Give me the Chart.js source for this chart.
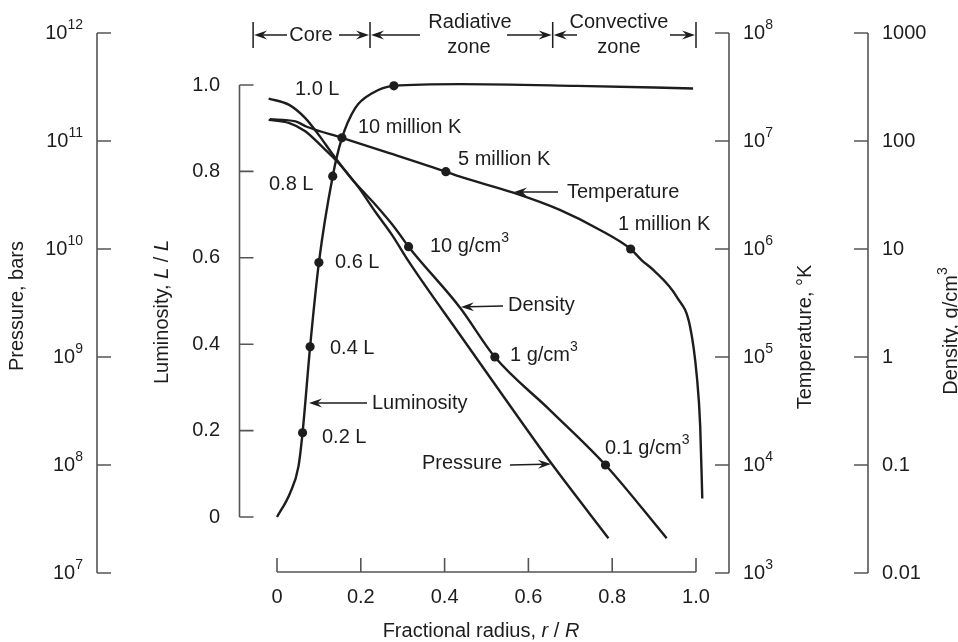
<!DOCTYPE html>
<html>
<head>
<meta charset="utf-8">
<script src="https://cdn.jsdelivr.net/npm/chart.js@4.4.1/dist/chart.umd.min.js"></script>
<style>
  html, body { margin: 0; padding: 0; background: #fff; }
  #wrap { width: 958px; height: 642px; }
</style>
</head>
<body>
<div id="wrap"><canvas id="sunChart" width="958" height="642"></canvas></div>
<script>
// fractional radius r/R for every curve
const lumR  = [0, 0.031, 0.051, 0.061, 0.079, 0.100, 0.133, 0.154, 0.187, 0.227, 0.279, 0.437, 0.715, 0.993];
const lumL  = [0, 0.055, 0.116, 0.195, 0.394, 0.589, 0.789, 0.874, 0.947, 0.981, 0.998, 1.002, 0.998, 0.992];

const tempR = [-0.017, 0.044, 0.071, 0.155, 0.270, 0.403, 0.437, 0.564, 0.675, 0.771, 0.844, 0.870, 0.898, 0.954, 0.986, 1.002, 1.010, 1.015];
const tempT = [1.59e7, 1.52e7, 1.355e7, 1.07e7, 7.69e6, 5.2e6, 4.67e6, 3.32e6, 2.30e6, 1.50e6, 1.0e6, 7.9e5, 6.4e5, 3.6e5, 1.9e5, 6.6e4, 2.3e4, 4.9e3];

const presR = [-0.020, 0.028, 0.0675, 0.0995, 0.131, 0.155, 0.195, 0.235, 0.274, 0.315, 0.437, 0.5465, 0.656, 0.791];
const presP = [2.47e11, 2.17e11, 1.63e11, 1.14e11, 7.7e10, 5.8e10, 3.7e10, 2.2e10, 1.36e10, 7.6e9, 1.6e9, 4.0e8, 1.02e8, 2.1e7];

const densR = [-0.020, 0.028, 0.0675, 0.107, 0.147, 0.187, 0.235, 0.282, 0.314, 0.437, 0.520, 0.652, 0.784, 0.930];
const densD = [157, 147, 123, 89, 62.5, 40.8, 25.7, 15.6, 10.5, 2.86, 1.0, 0.321, 0.1, 0.021];

// marked points
const lumDotR  = [0.061, 0.079, 0.100, 0.133, 0.279];
const lumDotL  = [0.195, 0.394, 0.589, 0.789, 0.998];
const tempDotR = [0.155, 0.403, 0.844];
const tempDotT = [1.07e7, 5.2e6, 1.0e6];
const densDotR = [0.314, 0.520, 0.784];
const densDotD = [10.5, 1.0, 0.1];

// ticks
const xTicks    = [0, 0.2, 0.4, 0.6, 0.8, 1.0];
const xLabels   = ['0', '0.2', '0.4', '0.6', '0.8', '1.0'];
const lumTicks  = [0, 0.2, 0.4, 0.6, 0.8, 1.0];
const lumLabels = ['0', '0.2', '0.4', '0.6', '0.8', '1.0'];
const presExp   = [7, 8, 9, 10, 11, 12];
const tempExp   = [3, 4, 5, 6, 7, 8];
const densTicks = [0.01, 0.1, 1, 10, 100, 1000];
const densLabels = ['0.01', '0.1', '1', '10', '100', '1000'];

// zone boundaries in r/R
const zoneEdges = [-0.057, 0.222, 0.658, 1.0];

const INK = '#1d1d1d';
const AXIS = '#555';
const FONT = '"Liberation Sans", Arial, Helvetica, sans-serif';
const f = (size, style) => (style || '') + ' ' + size + 'px ' + FONT;

function pts(xs, ys) { return xs.map((x, i) => ({ x: x, y: ys[i] })); }

// draws a row of text pieces [text, font, dy]
function runs(ctx, parts, x, y, align) {
    let w = 0;
    parts.forEach(p => { ctx.font = p[1]; w += ctx.measureText(p[0]).width; });
    let cx = align === 'center' ? x - w / 2 : align === 'right' ? x - w : x;
    ctx.textAlign = 'left';
    ctx.textBaseline = 'middle';
    parts.forEach(p => {
        ctx.font = p[1];
        ctx.fillText(p[0], cx, y + (p[2] || 0));
        cx += ctx.measureText(p[0]).width;
    });
}

function arrow(ctx, x1, y1, x2, y2) {
    const a = Math.atan2(y2 - y1, x2 - x1), c = Math.cos(a), s = Math.sin(a);
    const L = 13, W = 4.5;
    ctx.beginPath();
    ctx.moveTo(x1, y1);
    ctx.lineTo(x2 - c * 8, y2 - s * 8);
    ctx.stroke();
    ctx.beginPath();
    ctx.moveTo(x2, y2);
    ctx.lineTo(x2 - L * c + W * s, y2 - L * s - W * c);
    ctx.lineTo(x2 - 0.65 * L * c, y2 - 0.65 * L * s);
    ctx.lineTo(x2 - L * c - W * s, y2 - L * s + W * c);
    ctx.closePath();
    ctx.fill();
}

function vAxis(ctx, sc, x, vals, dir) {
    const ys = vals.map(v => sc.getPixelForValue(v));
    ctx.beginPath();
    ctx.moveTo(x, Math.min(...ys));
    ctx.lineTo(x, Math.max(...ys));
    ys.forEach(y => { ctx.moveTo(x, y); ctx.lineTo(x + dir * 14, y); });
    ctx.stroke();
    return ys;
}

function rotated(ctx, parts, x, y) {
    ctx.save();
    ctx.translate(x, y);
    ctx.rotate(-Math.PI / 2);
    runs(ctx, parts, 0, 0, 'center');
    ctx.restore();
}

const sunAxes = {
    id: 'sunAxes',
    afterDraw(chart) {
        const ctx = chart.ctx, s = chart.scales;
        const T = f(20), SUP = f(14), IT = f(20, 'italic');
        ctx.save();
        ctx.strokeStyle = AXIS;
        ctx.fillStyle = INK;
        ctx.lineWidth = 1.6;

        // pressure axis
        let ys = vAxis(ctx, s.yP, 97, presExp.map(e => Math.pow(10, e)), 1);
        ys.forEach((y, i) => runs(ctx, [['10', T], [String(presExp[i]), SUP, -8]], 83, y, 'right'));
        // luminosity axis
        ys = vAxis(ctx, s.yL, 239.5, lumTicks, 1);
        ys.forEach((y, i) => runs(ctx, [[lumLabels[i], T]], 220, y, 'right'));
        // temperature axis
        ys = vAxis(ctx, s.yT, 729, tempExp.map(e => Math.pow(10, e)), -1);
        ys.forEach((y, i) => runs(ctx, [['10', T], [String(tempExp[i]), SUP, -8]], 743, y, 'left'));
        // density axis
        ys = vAxis(ctx, s.yD, 868, densTicks, -1);
        ys.forEach((y, i) => runs(ctx, [[densLabels[i], T]], 882, y, 'left'));

        // x axis, ticks pointing up
        const xb = chart.chartArea.bottom - 1;
        const xs = xTicks.map(v => s.x.getPixelForValue(v));
        ctx.beginPath();
        ctx.moveTo(xs[0], xb);
        ctx.lineTo(xs[xs.length - 1], xb);
        xs.forEach(x => { ctx.moveTo(x, xb); ctx.lineTo(x, xb - 14); });
        ctx.stroke();
        xs.forEach((x, i) => runs(ctx, [[xLabels[i], T]], x, 597, 'center'));

        // axis titles
        runs(ctx, [['Fractional radius, ', T], ['r', IT], [' / ', T], ['R', IT]], 481, 631, 'center');
        rotated(ctx, [['Pressure, bars', T]], 17, 306);
        rotated(ctx, [['Luminosity, ', T], ['L', IT], [' / ', T], ['L', IT]], 162, 312);
        rotated(ctx, [['Temperature, \u00b0K', T]], 805, 337);
        rotated(ctx, [['Density, g/cm', T], ['3', SUP, -8]], 951, 331);

        // zone header
        ctx.strokeStyle = INK;
        ctx.lineWidth = 1.5;
        const zx = zoneEdges.map(v => s.x.getPixelForValue(v));
        ctx.beginPath();
        zx.forEach(x => { ctx.moveTo(x, 22); ctx.lineTo(x, 48); });
        ctx.stroke();
        arrow(ctx, 287, 35, zx[0] + 1, 35);
        arrow(ctx, 339, 35, zx[1] - 1, 35);
        arrow(ctx, 420, 35, zx[1] + 1, 35);
        arrow(ctx, 507, 35, zx[2] - 1, 35);
        arrow(ctx, 577, 35, zx[2] + 1, 35);
        arrow(ctx, 670, 35, zx[3] - 1, 35);
        runs(ctx, [['Core', T]], 311, 35, 'center');
        runs(ctx, [['Radiative', T]], 470, 22, 'center');
        runs(ctx, [['zone', T]], 469, 47, 'center');
        runs(ctx, [['Convective', T]], 619, 22, 'center');
        runs(ctx, [['zone', T]], 619, 47, 'center');

        // curve labels
        const notes = [
            ['1.0 L', 295, 89], ['10 million K', 358, 127], ['5 million K', 458, 159],
            ['Temperature', 567, 192], ['1 million K', 618, 224], ['0.8 L', 269, 184],
            ['0.6 L', 335, 262], ['Density', 508, 305], ['0.4 L', 330, 348],
            ['Luminosity', 372, 403], ['0.2 L', 322, 437], ['Pressure', 422, 463]
        ];
        notes.forEach(n => runs(ctx, [[n[0], T]], n[1], n[2], 'left'));
        runs(ctx, [['10 g/cm', T], ['3', SUP, -8]], 430, 246, 'left');
        runs(ctx, [['1 g/cm', T], ['3', SUP, -8]], 510, 355, 'left');
        runs(ctx, [['0.1 g/cm', T], ['3', SUP, -8]], 605, 448, 'left');

        arrow(ctx, 558, 192, 514, 192);
        arrow(ctx, 367, 403, 309, 403);
        arrow(ctx, 503, 306, 461, 307);
        arrow(ctx, 510, 465, 551, 464);
        ctx.restore();
    }
};

const curve = { borderColor: INK, borderWidth: 2.4, pointRadius: 0, fill: false, cubicInterpolationMode: 'monotone' };
const dots = { type: 'scatter', backgroundColor: INK, borderColor: INK, pointRadius: 4.6, borderWidth: 0 };

new Chart(document.getElementById('sunChart'), {
    type: 'line',
    data: {
        datasets: [
            Object.assign({ label: 'Luminosity', data: pts(lumR, lumL), yAxisID: 'yL' }, curve),
            Object.assign({ label: 'Temperature', data: pts(tempR, tempT), yAxisID: 'yT' }, curve),
            Object.assign({ label: 'Pressure', data: pts(presR, presP), yAxisID: 'yP' }, curve),
            Object.assign({ label: 'Density', data: pts(densR, densD), yAxisID: 'yD' }, curve),
            Object.assign({ label: 'L points', data: pts(lumDotR, lumDotL), yAxisID: 'yL' }, dots),
            Object.assign({ label: 'T points', data: pts(tempDotR, tempDotT), yAxisID: 'yT' }, dots),
            Object.assign({ label: 'rho points', data: pts(densDotR, densDotD), yAxisID: 'yD' }, dots)
        ]
    },
    options: {
        responsive: false,
        animation: false,
        events: [],
        layout: { padding: { left: 262, right: 247, top: 33, bottom: 69 } },
        plugins: { legend: { display: false }, tooltip: { enabled: false } },
        scales: {
            x:  { type: 'linear', min: -0.0358, max: 1.0358, display: false },
            yP: { type: 'logarithmic', min: 1e7, max: 1e12, display: false },
            yL: { type: 'linear', min: -0.12963, max: 1.12037, display: false },
            yT: { type: 'logarithmic', min: 1e3, max: 1e8, display: false },
            yD: { type: 'logarithmic', min: 0.01, max: 1000, display: false }
        }
    },
    plugins: [sunAxes]
});
</script>
</body>
</html>
